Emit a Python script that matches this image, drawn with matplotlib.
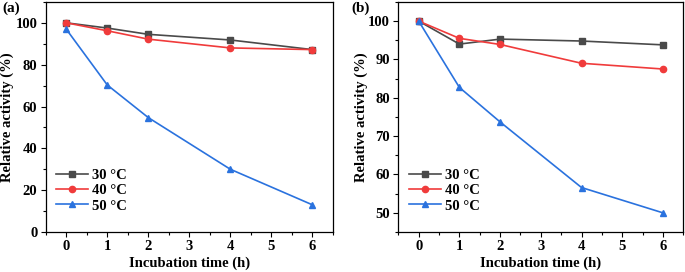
import matplotlib.pyplot as plt
from matplotlib.ticker import MultipleLocator

plt.rcParams['font.family'] = ['Liberation Serif', 'DejaVu Serif']
plt.rcParams['font.weight'] = 'bold'

time_h = [0, 1, 2, 4, 6]
labels = ['30 °C', '40 °C', '50 °C']

# panel (a)
a_30 = [100, 97.5, 94.5, 91.8, 87.2]
a_40 = [100, 96.2, 92.2, 88.0, 87.2]
a_50 = [97, 70.3, 54.7, 30.0, 13.0]

# panel (b)
b_30 = [100, 94.0, 95.3, 94.8, 93.8]
b_40 = [100, 95.5, 93.9, 89.0, 87.5]
b_50 = [100, 82.7, 73.7, 56.6, 50.0]

colors = ['#4a4a4a', '#f03b3b', '#2a72de']
markers = ['s', 'o', '^']

fig = plt.figure(figsize=(6.85, 2.72), dpi=100)
ax1 = fig.add_axes([0.0667, 0.147, 0.4193, 0.846])
ax2 = fig.add_axes([0.5815, 0.147, 0.416, 0.846])

def draw(ax, series, ylim, ystep, legend_y, ylab_x):
    for y, c, m, lab in zip(series, colors, markers, labels):
        ax.plot(time_h, y, color=c, marker=m, markersize=4.5, linewidth=1.2, label=lab)
    ax.set_xlim(-0.5, 6.5)
    ax.set_ylim(*ylim)
    ax.xaxis.set_major_locator(MultipleLocator(1))
    ax.xaxis.set_minor_locator(MultipleLocator(0.5))
    ax.yaxis.set_major_locator(MultipleLocator(ystep))
    ax.yaxis.set_minor_locator(MultipleLocator(ystep / 2))
    ax.tick_params(which='major', direction='out', length=3.5, width=0.8, labelsize=10.5, pad=2.5)
    ax.tick_params(which='minor', direction='out', length=2, width=0.8)
    for s in ax.spines.values():
        s.set_linewidth(0.9)
    ax.set_xlabel('Incubation time (h)', fontsize=10.5, fontweight='bold', labelpad=2)
    ax.set_ylabel('Relative activity (%)', fontsize=10.5, fontweight='bold')
    ax.yaxis.set_label_coords(ylab_x, 0.5)
    for t in ax.get_xticklabels() + ax.get_yticklabels():
        t.set_fontweight('bold')
    ax.legend(loc='lower left', bbox_to_anchor=(0.0, legend_y), frameon=False,
              fontsize=10.5, handlelength=2.2, handletextpad=0.3, labelspacing=0.15,
              borderaxespad=0.3)

draw(ax1, [a_30, a_40, a_50], (0, 110), 20, 0.04, -0.112)
draw(ax2, [b_30, b_40, b_50], (45, 105), 10, 0.04, -0.105)

fig.text(0.003, 0.958, '(a)', fontsize=11, fontweight='bold')
fig.text(0.513, 0.958, '(b)', fontsize=11, fontweight='bold')

fig.savefig('out.png', dpi=100)
